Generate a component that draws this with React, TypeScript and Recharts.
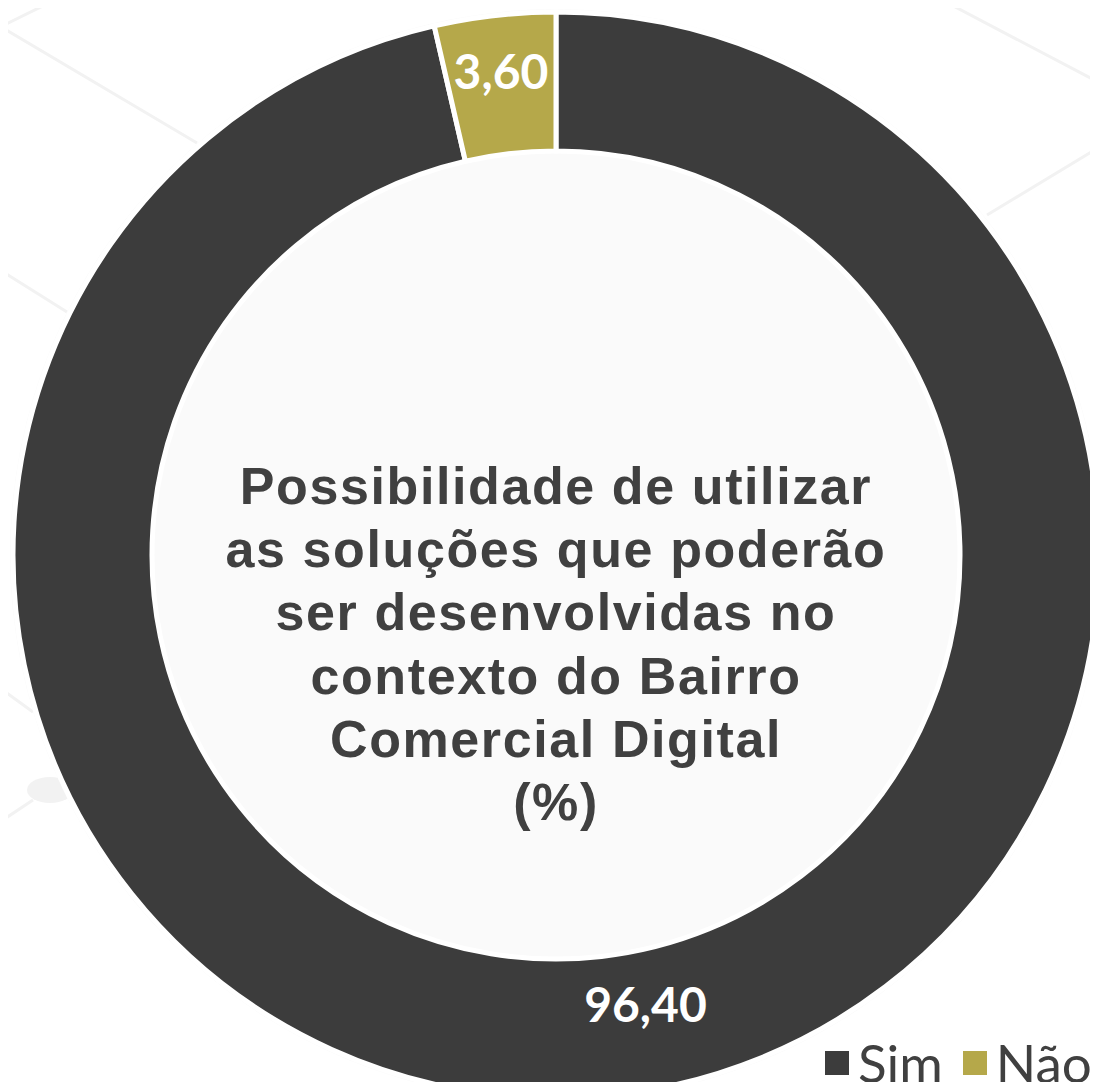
import React from "react";
import { PieChart, Pie, Cell, Legend } from "recharts";

const categories = ["Sim", "Não"];
const values = [96.4, 3.6];
const colors = ["#3c3c3c", "#b5a84a"];
const titleLines = [
  "Possibilidade de utilizar",
  "as soluções que poderão",
  "ser desenvolvidas no",
  "contexto do Bairro",
  "Comercial Digital",
  "(%)",
];

const data = categories.map((name, i) => ({ name, value: values[i] }));

const W = 1098;
const H = 1090;
const CX = 556;
const CY = 555;
const INNER = 404;
const OUTER = 543;
const RAD = Math.PI / 180;

const fmt = (v: number) => v.toFixed(2).replace(".", ",");

const renderLabel = (props: any) => {
  const { cx, cy, midAngle, innerRadius, outerRadius, index } = props;
  const r = (innerRadius + outerRadius) / 2 + (index === 1 ? 14 : -16);
  const ang = midAngle + (index === 0 ? 4.8 : 0);
  const x = cx + r * Math.cos(-ang * RAD);
  const y = cy + r * Math.sin(-ang * RAD);
  return (
    <text
      x={x}
      y={y}
      fill="#ffffff"
      stroke="none"
      textAnchor="middle"
      dominantBaseline="central"
      fontFamily="Lato, 'Open Sans', sans-serif"
      fontWeight={700}
      fontSize={48}
    >
      {fmt(values[index])}
    </text>
  );
};

const LegendContent = () => (
  <div
    style={{
      display: "flex",
      alignItems: "center",
      fontFamily: "Lato, 'Open Sans', sans-serif",
      fontSize: 53,
      lineHeight: "54px",
      color: "#404040",
      whiteSpace: "nowrap",
    }}
  >
    {categories.map((c, i) => (
      <div key={c} style={{ display: "flex", alignItems: "center", marginRight: 20 }}>
        <span
          style={{
            display: "inline-block",
            width: 24,
            height: 24,
            background: colors[i],
            marginRight: 9,
          }}
        />
        <span>{c}</span>
      </div>
    ))}
  </div>
);

const bgLines: [number, number, number, number][] = [
  [0, 27, 55, 0],
  [3, 28, 197, 143],
  [0, 270, 67, 312],
  [0, 688, 33, 712],
  [0, 822, 33, 800],
  [942, 0, 1098, 82],
  [987, 215, 1098, 148],
];

export default function App() {
  return (
    <div
      style={{
        position: "relative",
        width: W,
        height: H,
        margin: -8,
        overflow: "hidden",
        background: "#ffffff",
      }}
    >
      <svg
        width={W}
        height={H}
        style={{ position: "absolute", left: 0, top: 0 }}
      >
        {bgLines.map((l, i) => (
          <line
            key={i}
            x1={l[0]}
            y1={l[1]}
            x2={l[2]}
            y2={l[3]}
            stroke="#f2f2f2"
            strokeWidth={3}
          />
        ))}
        <ellipse cx={50} cy={790} rx={23} ry={13} fill="#f2f2f2" />
        <circle cx={CX} cy={CY} r={OUTER + 3} fill="#fbfbfb" />
        <circle cx={CX} cy={CY} r={INNER} fill="#fafafa" />
      </svg>
      <div style={{ position: "absolute", left: 0, top: 0 }}>
        <PieChart
          width={W + 60}
          height={H + 20}
          margin={{ top: 0, right: 0, bottom: 0, left: 0 }}
        >
          <Pie
            data={data}
            dataKey="value"
            nameKey="name"
            cx={CX}
            cy={CY}
            innerRadius={INNER}
            outerRadius={OUTER}
            startAngle={90}
            endAngle={-270}
            stroke="#ffffff"
            strokeWidth={5}
            label={renderLabel}
            labelLine={false}
            isAnimationActive={false}
          >
            {data.map((d, i) => (
              <Cell key={d.name} fill={colors[i]} />
            ))}
          </Pie>
          <Legend
            content={<LegendContent />}
            wrapperStyle={{ position: "absolute", left: 825, top: 1036, width: "auto" }}
          />
        </PieChart>
      </div>
      <svg
        width={W}
        height={H}
        style={{ position: "absolute", left: 0, top: 0, pointerEvents: "none" }}
      >
        <text
          textAnchor="middle"
          fontFamily="'Liberation Sans', Arial, sans-serif"
          fontWeight={700}
          fontSize={52}
          letterSpacing={1.6}
          fill="#404040"
        >
          {titleLines.map((t, i) => (
            <tspan key={i} x={CX} y={504 + 63.2 * i}>
              {t}
            </tspan>
          ))}
        </text>
      </svg>
    </div>
  );
}
